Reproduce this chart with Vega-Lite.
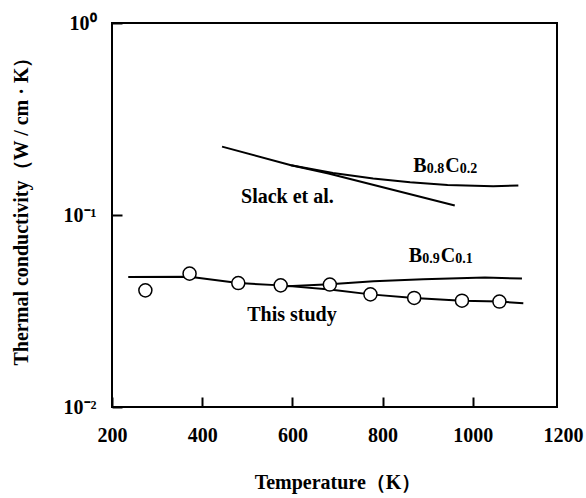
{
  "$schema": "https://vega.github.io/schema/vega-lite/v6.json",
  "width": 445,
  "height": 384,
  "autosize": {"type": "none"},
  "padding": {"left": 112, "top": 23, "right": 29, "bottom": 91},
  "background": "white",
  "config": {
    "view": {"stroke": "black", "strokeWidth": 2},
    "font": "Liberation Serif",
    "axis": {
      "grid": false,
      "domain": false,
      "ticks": true,
      "zindex": 1,
      "labelFlush": false,
      "labelOverlap": false,
      "labelFont": "Liberation Serif",
      "labelFontWeight": "bold",
      "labelFontSize": 20,
      "labelColor": "black",
      "titleFont": "Liberation Serif",
      "titleFontWeight": "bold",
      "titleFontSize": 20,
      "titleColor": "black",
      "tickColor": "black",
      "tickWidth": 2
    }
  },
  "datasets": {
    "curves": [
      {"series": "This study", "T": 236, "v": 0.0476},
      {"series": "This study", "T": 372, "v": 0.0477},
      {"series": "This study", "T": 480, "v": 0.0442},
      {"series": "This study", "T": 574, "v": 0.043},
      {"series": "This study", "T": 683, "v": 0.0409},
      {"series": "This study", "T": 773, "v": 0.0386},
      {"series": "This study", "T": 870, "v": 0.037},
      {"series": "This study", "T": 976, "v": 0.0358},
      {"series": "This study", "T": 1059, "v": 0.0354},
      {"series": "This study", "T": 1112, "v": 0.0347},
      {"series": "B0.9C0.1", "T": 589, "v": 0.0425},
      {"series": "B0.9C0.1", "T": 683, "v": 0.0436},
      {"series": "B0.9C0.1", "T": 780, "v": 0.0452},
      {"series": "B0.9C0.1", "T": 890, "v": 0.0463},
      {"series": "B0.9C0.1", "T": 1027, "v": 0.0472},
      {"series": "B0.9C0.1", "T": 1109, "v": 0.0467},
      {"series": "Slack", "T": 444, "v": 0.227},
      {"series": "Slack", "T": 597, "v": 0.1816},
      {"series": "Slack", "T": 680, "v": 0.1645},
      {"series": "Slack", "T": 960, "v": 0.112},
      {"series": "B0.8C0.2", "T": 597, "v": 0.1816},
      {"series": "B0.8C0.2", "T": 690, "v": 0.1655},
      {"series": "B0.8C0.2", "T": 779, "v": 0.155},
      {"series": "B0.8C0.2", "T": 861, "v": 0.148},
      {"series": "B0.8C0.2", "T": 944, "v": 0.1435},
      {"series": "B0.8C0.2", "T": 1045, "v": 0.141},
      {"series": "B0.8C0.2", "T": 1101, "v": 0.1425}
    ],
    "points": [
      {"T": 274, "v": 0.0405},
      {"T": 372, "v": 0.0495},
      {"T": 480, "v": 0.0442},
      {"T": 574, "v": 0.043},
      {"T": 683, "v": 0.0434},
      {"T": 773, "v": 0.0386},
      {"T": 870, "v": 0.037},
      {"T": 976, "v": 0.0358},
      {"T": 1059, "v": 0.0354}
    ],
    "labels": [
      {"T": 589, "v": 0.116, "text": "Slack et al."},
      {"T": 599, "v": 0.0279, "text": "This study"}
    ],
    "formulas": [
      {"T": 868, "v": 0.1667, "b1": "B", "s1": "0.8", "b2": "C", "s2": "0.2"},
      {"T": 858, "v": 0.0567, "b1": "B", "s1": "0.9", "b2": "C", "s2": "0.1"}
    ]
  },
  "encoding": {
    "x": {
      "field": "T",
      "type": "quantitative",
      "scale": {"domain": [200, 1200], "range": [0, 451], "nice": false, "zero": false},
      "axis": {
        "title": "Temperature（K）",
        "values": [200, 400, 600, 800, 1000, 1200],
        "format": "d",
        "offset": -10,
        "tickSize": 10,
        "labelPadding": 18,
        "tickColor": {"condition": {"test": "datum.value >= 1200", "value": "transparent"}, "value": "black"},
        "titleY": 91,
        "titleBaseline": "alphabetic"
      }
    },
    "y": {
      "field": "v",
      "type": "quantitative",
      "scale": {"type": "log", "domain": [0.01, 1], "nice": false},
      "axis": {
        "title": "Thermal conductivity（W / cm · K）",
        "values": [0.01, 0.1, 1],
        "labelExpr": "datum.value >= 0.5 ? '10⁰' : datum.value >= 0.05 ? '10⁻¹' : '10⁻²'",
        "offset": -10,
        "tickSize": 10,
        "labelPadding": 16,
        "titleX": -95,
        "titleY": 183,
        "titleAngle": 270,
        "titleAlign": "center",
        "titleBaseline": "alphabetic"
      }
    }
  },
  "layer": [
    {
      "data": {"name": "curves"},
      "mark": {"type": "line", "color": "black", "strokeWidth": 2},
      "encoding": {"detail": {"field": "series"}}
    },
    {
      "data": {"name": "points"},
      "mark": {"type": "point", "shape": "circle", "filled": true, "fill": "white", "stroke": "black", "strokeWidth": 1.5, "size": 170, "opacity": 1}
    },
    {
      "data": {"name": "labels"},
      "mark": {"type": "text", "font": "Liberation Serif", "fontWeight": "bold", "fontSize": 20, "align": "center", "baseline": "alphabetic", "color": "black"},
      "encoding": {"text": {"field": "text"}}
    },
    {
      "data": {"name": "formulas"},
      "mark": {"type": "text", "font": "Liberation Serif", "fontWeight": "bold", "fontSize": 20, "align": "left", "baseline": "alphabetic", "color": "black"},
      "encoding": {"text": {"field": "b1"}}
    },
    {
      "data": {"name": "formulas"},
      "mark": {"type": "text", "font": "Liberation Serif", "fontWeight": "bold", "fontSize": 14, "align": "left", "baseline": "alphabetic", "dx": 13.5, "dy": 1, "color": "black"},
      "encoding": {"text": {"field": "s1"}}
    },
    {
      "data": {"name": "formulas"},
      "mark": {"type": "text", "font": "Liberation Serif", "fontWeight": "bold", "fontSize": 20, "align": "left", "baseline": "alphabetic", "dx": 32, "color": "black"},
      "encoding": {"text": {"field": "b2"}}
    },
    {
      "data": {"name": "formulas"},
      "mark": {"type": "text", "font": "Liberation Serif", "fontWeight": "bold", "fontSize": 14, "align": "left", "baseline": "alphabetic", "dx": 46.5, "dy": 1, "color": "black"},
      "encoding": {"text": {"field": "s2"}}
    }
  ]
}
